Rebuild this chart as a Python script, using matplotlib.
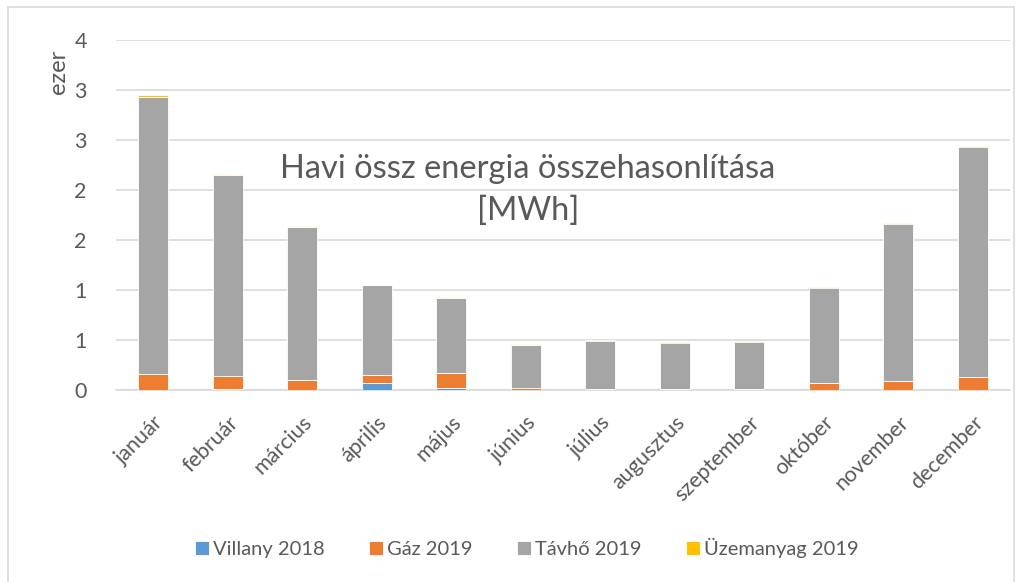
import numpy as np
import matplotlib
matplotlib.use("Agg")
import matplotlib.pyplot as plt
from matplotlib.patches import Rectangle

plt.rcParams['font.family'] = ['Lato', 'DejaVu Sans']

# monthly values, thousand MWh
honapok = ["január", "február", "március", "április", "május", "június",
           "július", "augusztus", "szeptember", "október", "november", "december"]
villany_2018 = [0.0, 0.01, 0.005, 0.075, 0.02, 0.005, 0.003, 0.003, 0.003, 0.003, 0.003, 0.003]
gaz_2019 = [0.16, 0.135, 0.10, 0.075, 0.155, 0.015, 0.01, 0.01, 0.01, 0.07, 0.09, 0.125]
tavho_2019 = [2.773, 2.005, 1.525, 0.90, 0.742, 0.43, 0.482, 0.462, 0.472, 0.952, 1.572, 2.307]
uzemanyag_2019 = [0.012, 0.01, 0.008, 0.005, 0.008, 0.006, 0.008, 0.008, 0.005, 0.005, 0.004, 0.01]

y_ticks = [0, 0.5, 1.0, 1.5, 2.0, 2.5, 3.0, 3.5]
y_tick_labels = ["0", "1", "1", "2", "2", "3", "3", "4"]

series = [("Villany 2018", villany_2018, "#5B9BD5"),
          ("Gáz 2019", gaz_2019, "#ED7D31"),
          ("Távhő 2019", tavho_2019, "#A5A5A5"),
          ("Üzemanyag 2019", uzemanyag_2019, "#FFC000")]

txt = "#595959"
grid = "#D9D9D9"

fig = plt.figure(figsize=(10.24, 5.82), dpi=100)
ax = fig.add_axes([116/1024, 1 - 390/582, 894/1024, 350/582])

x = np.arange(len(honapok))
bottom = np.zeros(len(honapok))
for name, vals, col in series:
    vals = np.array(vals)
    ax.bar(x, vals, 0.4, bottom=bottom, color=col, label=name,
           edgecolor="white", linewidth=0.6, zorder=3)
    bottom += vals

ax.set_xlim(-0.5, len(honapok) - 0.5)
ax.set_ylim(0, 3.5)
ax.set_yticks(y_ticks)
ax.set_yticklabels(y_tick_labels)
ax.yaxis.grid(True, color=grid, linewidth=1.2, zorder=0)
ax.set_axisbelow(True)
for s in ["top", "right", "left"]:
    ax.spines[s].set_visible(False)
ax.spines["bottom"].set_color(grid)
ax.spines["bottom"].set_linewidth(1.2)
ax.tick_params(axis="both", length=0, colors=txt, labelsize=15.5)
ax.tick_params(axis="y", pad=21)
ax.set_xticks(x)
ax.set_xticklabels(honapok, rotation=45, ha="right", rotation_mode="anchor")
ax.tick_params(axis="x", pad=16)

fig.text(59/1024, 1 - 72/582, "ezer", rotation=90, ha="center", va="center",
         color=txt, fontsize=17)

ax.text(528/1024, 1 - 190/582, "Havi össz energia összehasonlítása\n[MWh]",
        transform=fig.transFigure, ha="center", va="center", color=txt,
        fontsize=23.5, linespacing=1.45, zorder=5)

fig.legend(loc="center", bbox_to_anchor=(527/1024, 1 - 548/582), ncol=4,
           frameon=False, fontsize=14.5, handlelength=0.7, handleheight=0.7,
           handletextpad=0.2, columnspacing=2.2, labelcolor=txt)

fig.patches.append(Rectangle((8/1024, -0.1), 1006/1024, 1.088,
                             transform=fig.transFigure, fill=False,
                             edgecolor=grid, linewidth=1.2))

fig.savefig("out.png", dpi=100, facecolor="white")
